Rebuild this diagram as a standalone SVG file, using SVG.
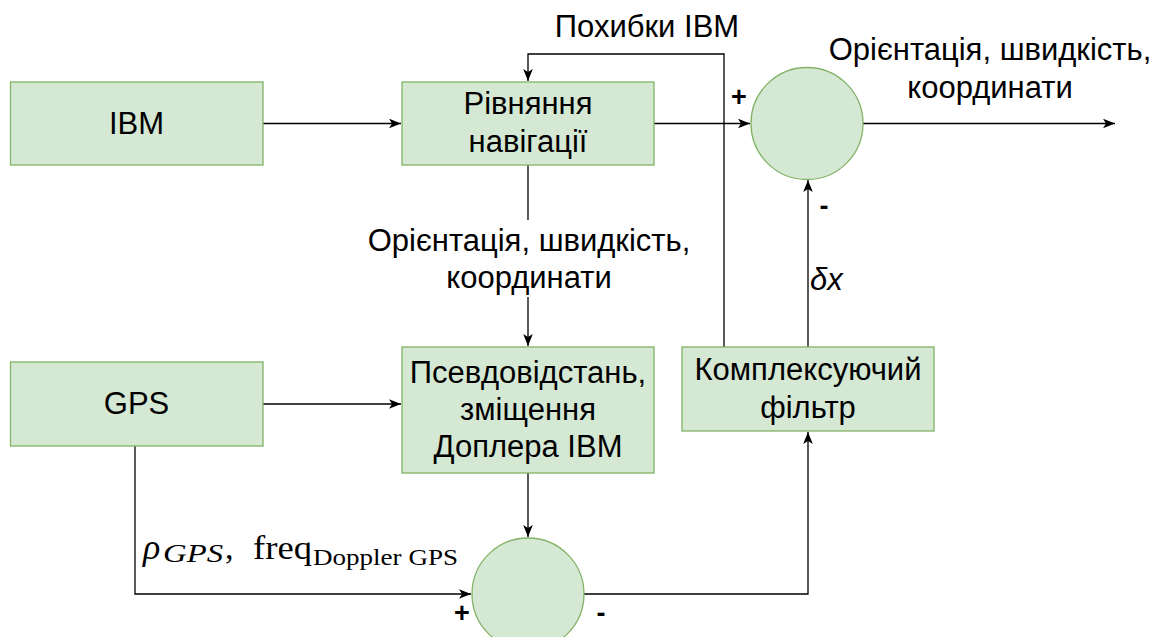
<svg xmlns="http://www.w3.org/2000/svg" width="1164" height="637" viewBox="0 0 1164 637">
<defs>
<style>
.box{fill:#d5e8d4;stroke:#82b366;stroke-width:1.3}
.t{font-family:"Liberation Sans",Arial,sans-serif;font-size:31px;fill:#000;text-anchor:middle}
.sign{font-family:"Liberation Sans",Arial,sans-serif;font-size:27px;font-weight:bold;fill:#000;text-anchor:middle}
.ln{fill:none;stroke:#000;stroke-width:1.3}
.m{font-family:"Liberation Serif","Times New Roman",serif;fill:#000}
</style>
<marker id="arr" viewBox="0 0 10 8" refX="10" refY="4" markerWidth="12" markerHeight="10" orient="auto" markerUnits="userSpaceOnUse">
<path d="M0,0 L10,4 L0,8 L2.5,4 z" fill="#000"/>
</marker>
</defs>
<rect width="1164" height="637" fill="#fff"/>

<g id="connectors">
<path class="ln" d="M263,123.5 H401" marker-end="url(#arr)"/>
<path class="ln" d="M654,123.5 H750" marker-end="url(#arr)"/>
<path class="ln" d="M863,123.5 H1115" marker-end="url(#arr)"/>
<path class="ln" d="M724,347 V54 H528 V81" marker-end="url(#arr)"/>
<path class="ln" d="M528,165 V346" marker-end="url(#arr)"/>
<path class="ln" d="M263,404 H401" marker-end="url(#arr)"/>
<path class="ln" d="M528,473 V537" marker-end="url(#arr)"/>
<path class="ln" d="M135,446 V594 H471" marker-end="url(#arr)"/>
<path class="ln" d="M584,594 H808 V432" marker-end="url(#arr)"/>
<path class="ln" d="M808,347 V180" marker-end="url(#arr)"/>
</g>

<g id="labels">
<text class="t" x="647" y="37">Похибки IBM</text>
<text class="t" x="990" y="60">Орієнтація, швидкість,</text>
<text class="t" x="990" y="98">координати</text>
<rect x="363" y="220" width="333" height="77" fill="#fff"/>
<text class="t" x="529" y="251">Орієнтація, швидкість,</text>
<text class="t" x="529" y="288">координати</text>
<text x="810" y="290" font-family="Liberation Sans,Arial,sans-serif" font-size="31" font-style="italic">δx</text>
<text class="sign" x="739" y="106">+</text>
<text class="sign" x="824" y="215">-</text>
<text class="sign" x="462" y="622">+</text>
<text class="sign" x="601" y="622">-</text>
<g class="m">
<text x="143" y="559" font-size="36" font-style="italic">ρ</text>
<text x="163" y="562" font-size="25" font-style="italic" textLength="60" lengthAdjust="spacingAndGlyphs">GPS</text>
<text x="225" y="559" font-size="34">,</text>
<text x="253" y="559" font-size="34" textLength="59" lengthAdjust="spacingAndGlyphs">freq</text>
<text x="313" y="565" font-size="24" textLength="145" lengthAdjust="spacingAndGlyphs">Doppler GPS</text>
</g>
</g>

<g id="ibm">
<rect class="box" x="10.5" y="82" width="252.5" height="83"/>
<text class="t" x="136.5" y="134">IBM</text>
</g>
<g id="gps">
<rect class="box" x="10.5" y="362" width="252.5" height="84"/>
<text class="t" x="136.5" y="414">GPS</text>
</g>
<g id="nav">
<rect class="box" x="402" y="82" width="252" height="83"/>
<text class="t" x="528" y="114">Рівняння</text>
<text class="t" x="528" y="152">навігації</text>
</g>
<g id="pseudo">
<rect class="box" x="402" y="347" width="252" height="126"/>
<text class="t" x="528" y="383">Псевдовідстань,</text>
<text class="t" x="528" y="420">зміщення</text>
<text class="t" x="528" y="457">Доплера IBM</text>
</g>
<g id="filter">
<rect class="box" x="682" y="347" width="252" height="84"/>
<text class="t" x="808" y="380">Комплексуючий</text>
<text class="t" x="808" y="418">фільтр</text>
</g>
<g id="sum1">
<circle class="box" cx="807" cy="123.5" r="56"/>
</g>
<g id="sum2">
<circle class="box" cx="528" cy="594" r="56"/>
</g>
</svg>
